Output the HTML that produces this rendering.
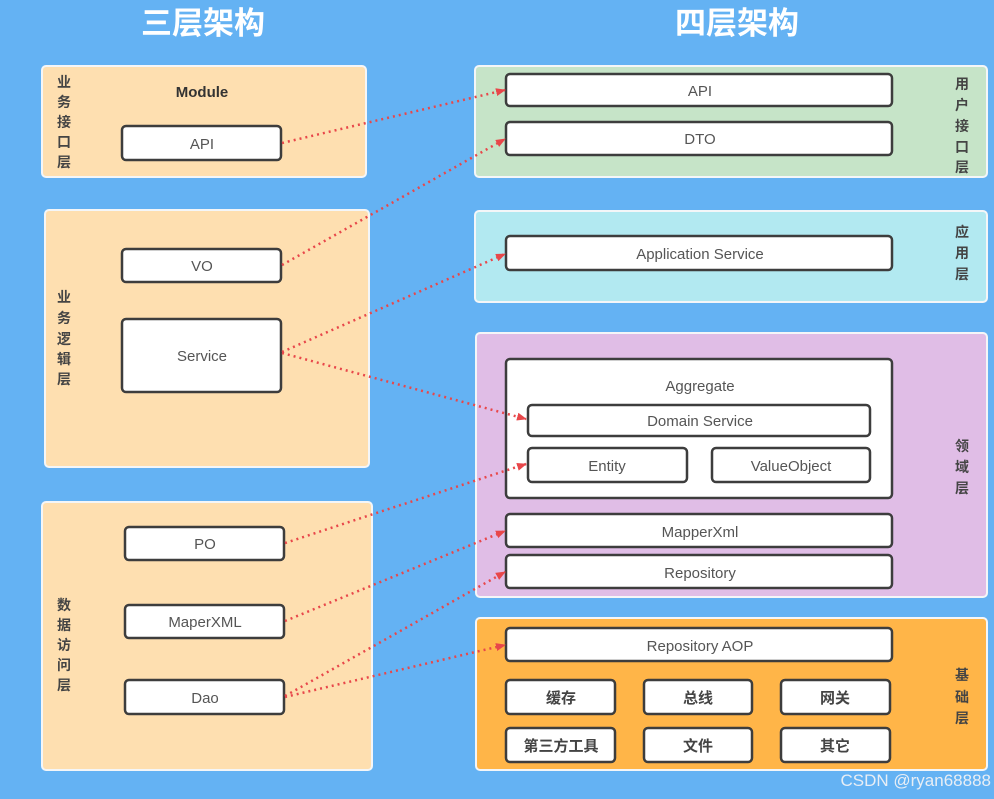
<!DOCTYPE html>
<html><head><meta charset="utf-8"><style>
html,body{margin:0;padding:0;background:#64b2f3;}
svg{display:block;}
text{font-family:"Liberation Sans","Noto Sans CJK SC",sans-serif;}
</style></head><body>
<svg width="994" height="799" viewBox="0 0 994 799" xmlns="http://www.w3.org/2000/svg">
<defs>
<marker id="ar" markerWidth="10" markerHeight="10" refX="9" refY="5" orient="auto" markerUnits="userSpaceOnUse">
<path d="M0,1 L10,5 L0,9 Z" fill="#e8474a"/></marker>
</defs>
<rect width="994" height="799" fill="#64b2f3"/>
<text x="203" y="34" font-size="31" font-weight="bold" fill="#fff" text-anchor="middle" font-family="Noto Sans CJK SC,sans-serif">三层架构</text>
<text x="737" y="34" font-size="31" font-weight="bold" fill="#fff" text-anchor="middle" font-family="Noto Sans CJK SC,sans-serif">四层架构</text>

<g stroke="#f4f6f8" stroke-width="2">
<rect x="42" y="66" width="324" height="111" rx="4" fill="#fedfb0"/>
<rect x="45" y="210" width="324" height="257" rx="4" fill="#fedfb0"/>
<rect x="42" y="502" width="330" height="268" rx="4" fill="#fedfb0"/>
<rect x="475" y="66" width="512" height="111" rx="4" fill="#c6e4c8"/>
<rect x="475" y="211" width="512" height="91" rx="4" fill="#b2e9f1"/>
<rect x="476" y="333" width="511" height="264" rx="4" fill="#e0bde6"/>
<rect x="476" y="618" width="511" height="152" rx="4" fill="#ffb548"/>
</g>

<g font-size="14" font-weight="bold" fill="#444" text-anchor="middle" font-family="Noto Sans CJK SC,sans-serif">
<text x="64" y="87">业</text><text x="64" y="107">务</text><text x="64" y="127">接</text><text x="64" y="147">口</text><text x="64" y="167">层</text>
<text x="64" y="302">业</text><text x="64" y="323">务</text><text x="64" y="344">逻</text><text x="64" y="364">辑</text><text x="64" y="384">层</text>
<text x="64" y="610">数</text><text x="64" y="630">据</text><text x="64" y="650">访</text><text x="64" y="670">问</text><text x="64" y="690">层</text>
<text x="962" y="89">用</text><text x="962" y="110">户</text><text x="962" y="131">接</text><text x="962" y="152">口</text><text x="962" y="172">层</text>
<text x="962" y="237">应</text><text x="962" y="258">用</text><text x="962" y="279">层</text>
<text x="962" y="451">领</text><text x="962" y="472">域</text><text x="962" y="493">层</text>
<text x="962" y="680">基</text><text x="962" y="702">础</text><text x="962" y="723">层</text>
</g>
<text x="202" y="97" font-size="15" font-weight="bold" fill="#333" text-anchor="middle">Module</text>

<g fill="#fff" stroke="#3d3d3d" stroke-width="2.5">
<rect x="122" y="126" width="159" height="34" rx="4"/>
<rect x="122" y="249" width="159" height="33" rx="4"/>
<rect x="122" y="319" width="159" height="73" rx="4"/>
<rect x="125" y="527" width="159" height="33" rx="4"/>
<rect x="125" y="605" width="159" height="33" rx="4"/>
<rect x="125" y="680" width="159" height="34" rx="4"/>
<rect x="506" y="74" width="386" height="32" rx="4"/>
<rect x="506" y="122" width="386" height="33" rx="4"/>
<rect x="506" y="236" width="386" height="34" rx="4"/>
<rect x="506" y="359" width="386" height="139" rx="4"/>
<rect x="528" y="405" width="342" height="31" rx="4"/>
<rect x="528" y="448" width="159" height="34" rx="4"/>
<rect x="712" y="448" width="158" height="34" rx="4"/>
<rect x="506" y="514" width="386" height="33" rx="4"/>
<rect x="506" y="555" width="386" height="33" rx="4"/>
<rect x="506" y="628" width="386" height="33" rx="4"/>
<rect x="506" y="680" width="109" height="34" rx="4"/>
<rect x="644" y="680" width="108" height="34" rx="4"/>
<rect x="781" y="680" width="109" height="34" rx="4"/>
<rect x="506" y="728" width="109" height="34" rx="4"/>
<rect x="644" y="728" width="108" height="34" rx="4"/>
<rect x="781" y="728" width="109" height="34" rx="4"/>
</g>

<g font-size="15" fill="#555" text-anchor="middle">
<text x="202" y="149">API</text>
<text x="202" y="271">VO</text>
<text x="202" y="361">Service</text>
<text x="205" y="549">PO</text>
<text x="205" y="627">MaperXML</text>
<text x="205" y="703">Dao</text>
<text x="700" y="96">API</text>
<text x="700" y="144">DTO</text>
<text x="700" y="259">Application Service</text>
<text x="700" y="391">Aggregate</text>
<text x="700" y="426">Domain Service</text>
<text x="607" y="471">Entity</text>
<text x="791" y="471">ValueObject</text>
<text x="700" y="537">MapperXml</text>
<text x="700" y="578">Repository</text>
<text x="700" y="651">Repository AOP</text>
</g>
<g font-size="15" fill="#444" text-anchor="middle" font-weight="bold" font-family="Noto Sans CJK SC,sans-serif">
<text x="561" y="703">缓存</text><text x="698" y="703">总线</text><text x="835" y="703">网关</text>
<text x="561" y="751">第三方工具</text><text x="698" y="751">文件</text><text x="835" y="751">其它</text>
</g>

<g stroke="#e8474a" stroke-width="2.5" stroke-dasharray="2,4" fill="none" marker-end="url(#ar)">
<line x1="282" y1="143" x2="505" y2="90"/>
<line x1="282" y1="265" x2="505" y2="139"/>
<line x1="282" y1="352" x2="505" y2="254"/>
<line x1="282" y1="353" x2="526" y2="419"/>
<line x1="285" y1="543" x2="526" y2="464"/>
<line x1="285" y1="621" x2="505" y2="531"/>
<line x1="285" y1="696" x2="505" y2="572"/>
<line x1="285" y1="697" x2="505" y2="645"/>
</g>
<text x="991" y="786" font-size="17" fill="#e8eef5" text-anchor="end">CSDN @ryan68888</text>
</svg>
</body></html>
